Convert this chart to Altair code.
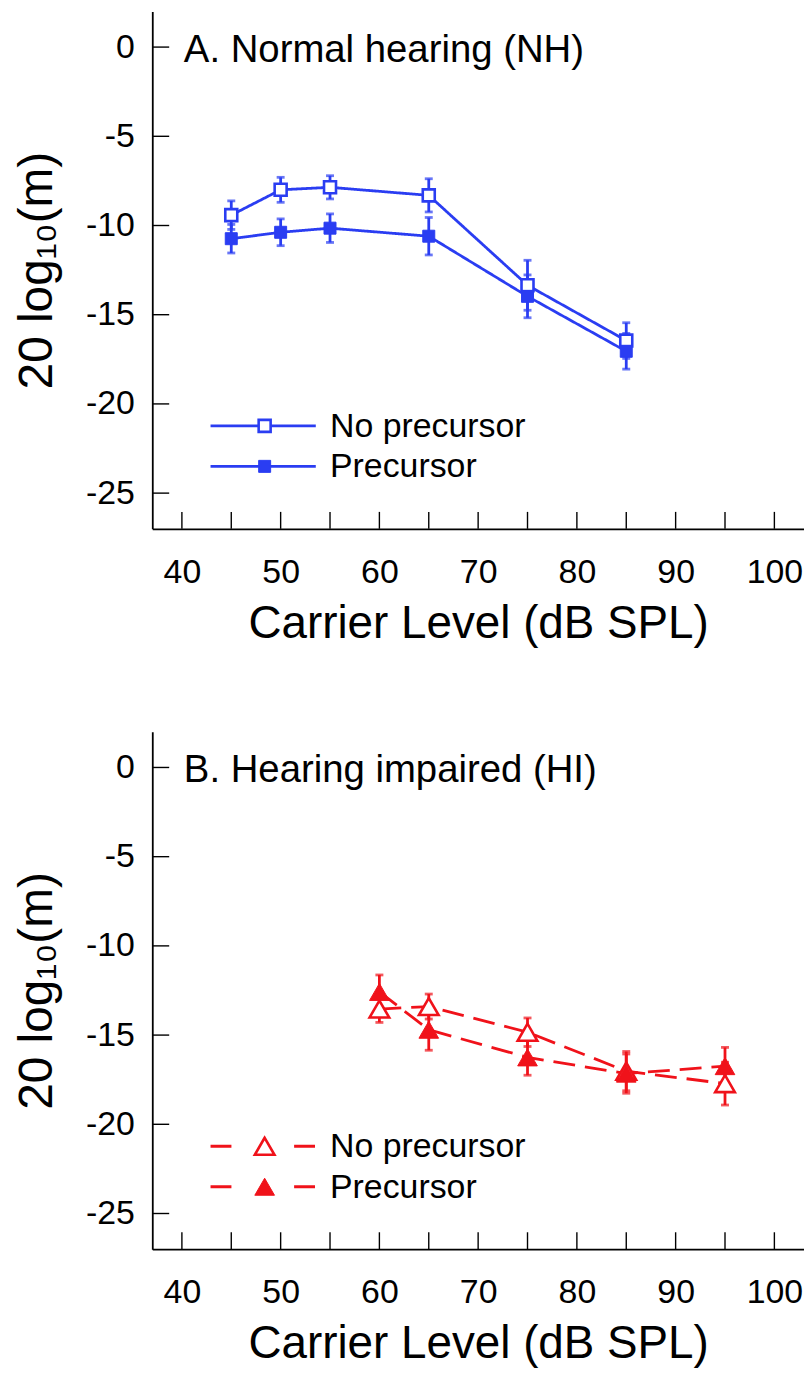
import altair as alt
import pandas as pd

# ---- data ----
levels_nh = [45, 50, 55, 65, 75, 85]
nh_noprec = [-9.42, -8.0, -7.86, -8.31, -13.35, -16.45]
nh_noprec_err = [0.8, 0.7, 0.65, 0.93, 1.4, 1.0]
nh_prec = [-10.74, -10.38, -10.15, -10.6, -13.97, -17.05]
nh_prec_err = [0.8, 0.75, 0.8, 1.05, 1.2, 1.0]

levels_hi = [60, 65, 75, 85, 95]
hi_noprec = [-13.54, -13.4, -14.84, -17.02, -17.72]
hi_noprec_err = [0.75, 0.7, 0.8, 1.1, 1.2]
hi_prec = [-12.58, -14.7, -16.25, -17.16, -16.74]
hi_prec_err = [0.95, 1.15, 1.0, 1.1, 1.05]

conditions = ["No precursor", "Precursor"]
x_ticks = [40, 45, 50, 55, 60, 65, 70, 75, 80, 85, 90, 95, 100]
x_labels = [40, 50, 60, 70, 80, 90, 100]
y_ticks = [-25, -20, -15, -10, -5, 0]

W, H = 655, 520
FONT = "Liberation Sans"
BLUE = "#2a3df2"
RED = "#f0121a"

xs = alt.Scale(domain=[37, 103], nice=False, zero=False)
ys = alt.Scale(domain=[-27, 2], nice=False, zero=False)

XAX = alt.Axis(
    title="Carrier Level (dB SPL)", values=x_labels, ticks=False, tickSize=0,
    labelPadding=27, grid=False, titleY=73, titleBaseline="top",
    labelExpr="'' + datum.value",
)
YAX = alt.Axis(
    title="20 log\u2081\u2080(m)", values=y_ticks, ticks=False, tickSize=0,
    labelPadding=18, grid=False, titleX=-91, titleY=H / 2,
    labelExpr="'' + datum.value",
)


def xf(field):
    return alt.X(field, type="quantitative", scale=xs, axis=XAX)


def yf(field):
    return alt.Y(field, type="quantitative", scale=ys, axis=YAX)


def xd(v):
    return alt.X(datum=v, type="quantitative", scale=xs, axis=XAX)


def yd(v):
    return alt.Y(datum=v, type="quantitative", scale=ys, axis=YAX)


def frame(levels, a, ae, b, be):
    rows = []
    for lv, v, e in zip(levels, a, ae):
        rows.append({"level": lv, "val": v, "lo": v - e, "hi": v + e, "cond": conditions[0]})
    for lv, v, e in zip(levels, b, be):
        rows.append({"level": lv, "val": v, "lo": v - e, "hi": v + e, "cond": conditions[1]})
    return pd.DataFrame(rows)


def marker(shape, msize, color, open_):
    if open_:
        return dict(shape=shape, size=msize, filled=True, fill="white", stroke=color,
                    strokeWidth=2.6, opacity=1)
    return dict(shape=shape, size=msize, filled=True, fill=color, stroke=color,
                strokeWidth=1, opacity=1)


def panel(df, title, color, shape, msize, dash, legend_dash):
    base = alt.Chart(df)
    line = base.mark_line(color=color, strokeWidth=2.8, strokeDash=dash).encode(
        x=xf("level"), y=yf("val"), detail="cond:N"
    )
    err = base.mark_rule(color=color, strokeWidth=2.8).encode(
        x=xf("level"), y=yf("lo"), y2="hi:Q"
    )
    cap_lo = base.mark_tick(color=color, orient="horizontal", size=8, thickness=2.8).encode(
        x=xf("level"), y=yf("lo")
    )
    cap_hi = base.mark_tick(color=color, orient="horizontal", size=8, thickness=2.8).encode(
        x=xf("level"), y=yf("hi")
    )
    pts_open = base.transform_filter(alt.datum.cond == conditions[0]).mark_point(
        **marker(shape, msize, color, True)
    ).encode(x=xf("level"), y=yf("val"))
    pts_fill = base.transform_filter(alt.datum.cond == conditions[1]).mark_point(
        **marker(shape, msize, color, False)
    ).encode(x=xf("level"), y=yf("val"))

    xt = alt.Chart(pd.DataFrame({"t": x_ticks})).mark_rule(color="black", strokeWidth=1.4).encode(
        x=xf("t"), y=alt.value(H), y2=alt.value(H - 17)
    )
    yt = alt.Chart(pd.DataFrame({"t": y_ticks})).mark_rule(color="black", strokeWidth=1.4).encode(
        y=yf("t"), x=alt.value(0), x2=alt.value(17)
    )

    ttl = alt.Chart().mark_text(
        text=title, align="left", baseline="alphabetic", dy=15, fontSize=38.5, font=FONT, color="black"
    ).encode(x=xd(40.2), y=yd(0))

    legs = []
    for i, (cond, ly) in enumerate(zip(conditions, [-21.23, -23.5])):
        legs.append(
            alt.Chart().mark_rule(color=color, strokeWidth=2.8, strokeDash=legend_dash).encode(
                x=xd(42.9), x2=alt.X2(datum=53.56), y=yd(ly)
            )
        )
        legs.append(
            alt.Chart().mark_point(**marker(shape, msize, color, i == 0)).encode(
                x=xd(48.38), y=yd(ly)
            )
        )
        legs.append(
            alt.Chart().mark_text(
                text=cond, align="left", baseline="alphabetic", dy=11, fontSize=34, font=FONT, color="black"
            ).encode(x=xd(55.0), y=yd(ly))
        )

    return alt.layer(line, err, cap_lo, cap_hi, pts_open, pts_fill, xt, yt, ttl, *legs).properties(
        width=W, height=H
    )


df_nh = frame(levels_nh, nh_noprec, nh_noprec_err, nh_prec, nh_prec_err)
df_hi = frame(levels_hi, hi_noprec, hi_noprec_err, hi_prec, hi_prec_err)

pA = panel(df_nh, "A. Normal hearing (NH)", BLUE, "square", 145, [1, 0], [1, 0])
pB = panel(df_hi, "B. Hearing impaired (HI)", RED, "triangle-up", 390, [22, 10], [21, 63])

chart = (
    alt.vconcat(pA, pB, spacing=204, bounds="flush")
    .properties(padding={"left": 6, "top": 0, "right": 0, "bottom": 0})
    .configure_view(stroke=None)
    .configure_axis(
        domainColor="black",
        domainWidth=1.8,
        labelFont=FONT,
        labelFontSize=34,
        labelColor="black",
        titleFont=FONT,
        titleFontSize=46,
        titleFontWeight="normal",
        titleColor="black",
    )
    .configure_axisY(titleFontSize=48)
)

chart.save("out.html", embed_options={"renderer": "svg", "actions": False})
